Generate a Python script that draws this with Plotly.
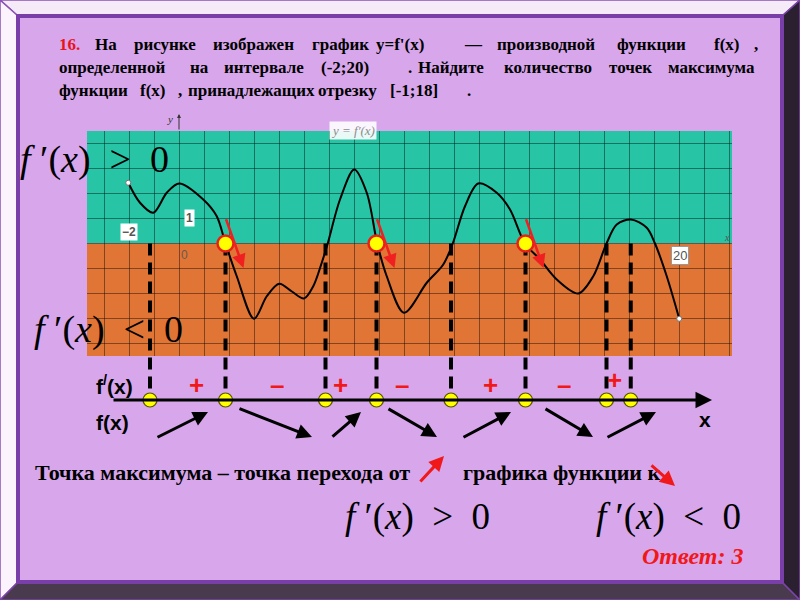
import plotly.graph_objects as go

W, H = 800, 600

# ---------------- data ----------------
curve_x = [-2.03, -1.56, -1.03, -0.49, 0.01, 0.97, 1.51, 1.86, 2.31, 3.0, 3.51, 4.01, 4.5, 5.0,
           5.37, 5.71, 5.95, 6.44, 7.01, 7.51, 7.93, 8.31, 9.0, 9.91, 10.57, 10.95, 11.44, 11.97,
           12.71, 13.24, 13.84, 14.44, 15.11, 15.97, 16.57, 17.1, 17.51, 18.08, 18.71, 19.04,
           19.51, 20.01]
curve_y = [2.43, 1.63, 1.23, 2.03, 2.4, 1.76, 1.09, 0.0, -1.31, -3.01, -2.11, -1.61, -1.91, -2.2,
           -1.71, -0.77, 0.0, 1.76, 2.96, 2.03, 0.0, -1.31, -2.77, -1.57, -0.84, 0.0, 1.49, 2.4,
           2.03, 1.36, 0.0, -0.64, -1.44, -2.0, -1.31, 0.0, 0.76, 0.96, 0.63, 0.0, -1.31, -3.01]
end_x = [-2.03, 20.01]
end_y = [2.43, -3.01]

crit_x = [-1.16, 1.86, 5.86, 7.9, 10.88, 13.86, 17.1, 18.07]   # dashed lines / number-line points
max_x = [1.86, 7.9, 13.86]                                       # maxima of f(x)

sign_text = ["+", "–", "+", "–", "+", "–", "+"]
sign_x = [0.68, 3.92, 6.44, 8.92, 12.44, 15.4, 17.42]
sign_raise = [0, 0, 0, 0, 0, 0, 1]

trend_x0 = [-0.92, 2.36, 6.08, 8.32, 11.32, 14.6, 17.08]
trend_x1 = [1.16, 5.32, 7.28, 10.32, 13.28, 16.56, 19.08]
trend_up = [True, False, True, False, True, False, True]

title_lines = [
    [("16.", 57, "#e8141c"), ("На", 93, None), ("рисунке", 132, None), ("изображен", 211, None),
     ("график", 310, None), ("y=f'(x)", 374, None), ("—", 462, None), ("производной", 495, None),
     ("функции", 615, None), ("f(x)", 712, None), (",", 752, None)],
    [("определенной", 57, None), ("на", 188, None), ("интервале", 222, None), ("(-2;20)", 319, None),
     (".", 406, None), ("Найдите", 416, None), ("количество", 502, None), ("точек", 607, None),
     ("максимума", 666, None)],
    [("функции", 57, None), ("f(x)", 138, None), (",", 176, None), ("принадлежащих", 186, None),
     ("отрезку", 316, None), ("[-1;18]", 388, None), (".", 465, None)],
]
title_y = [45, 67, 90]

# ---------------- layout constants ----------------
X0PX, UNIT = 179.0, 25.0
PLOT_L, PLOT_R, PLOT_T, PLOT_B = 87, 732, 131, 356
Y0PX = 243.5

LAV = "#d7a6eb"
TEAL = "#27c4a6"
ORANGE = "#e07536"
SERIF = "Liberation Serif"
SANS = "Liberation Sans"


def px(x):
    return x / W


def py(y):
    return 1 - y / H


def poly(pts):
    s = "M " + " L ".join(f"{px(a):.5f},{py(b):.5f}" for a, b in pts) + " Z"
    return s


fig = go.Figure()

# ---------------- main chart (x / y) ----------------
fig.add_trace(go.Scatter(x=curve_x, y=curve_y, mode="lines",
                         line=dict(color="black", width=2, shape="spline", smoothing=0.9),
                         hoverinfo="skip", showlegend=False))
fig.add_trace(go.Scatter(x=end_x, y=end_y, mode="markers",
                         marker=dict(size=5, color="white", line=dict(color="#777", width=1)),
                         hoverinfo="skip", showlegend=False))

# dashed lines and number-line dots on a pixel-based overlay subplot (x2 / y2)
for cx in crit_x:
    fig.add_trace(go.Scatter(x=[cx, cx], y=[Y0PX, 398], xaxis="x2", yaxis="y2", mode="lines",
                             line=dict(color="black", width=4, dash="12px,7px"),
                             hoverinfo="skip", showlegend=False))
fig.add_trace(go.Scatter(x=crit_x, y=[400] * len(crit_x), xaxis="x2", yaxis="y2", mode="markers",
                         marker=dict(size=14, color="#ffff00", line=dict(color="#555500", width=1.2)),
                         hoverinfo="skip", showlegend=False))
fig.add_trace(go.Scatter(x=max_x, y=[Y0PX] * len(max_x), xaxis="x2", yaxis="y2", mode="markers",
                         marker=dict(size=16, color="#ffff00", line=dict(color="#e8201a", width=2.5)),
                         hoverinfo="skip", showlegend=False))

shapes = []
# frame
shapes.append(dict(type="path", xref="paper", yref="paper", layer="below",
                   path=poly([(0, 0), (800, 0), (782, 16), (18, 16)]),
                   fillcolor="#f5eaf8", line=dict(color="#8b52b5", width=1.5)))
shapes.append(dict(type="path", xref="paper", yref="paper", layer="below",
                   path=poly([(0, 0), (18, 16), (18, 582), (0, 600)]),
                   fillcolor="#fbf4fc", line=dict(color="#8b52b5", width=1.5)))
shapes.append(dict(type="path", xref="paper", yref="paper", layer="below",
                   path=poly([(0, 600), (18, 582), (782, 582), (800, 600)]),
                   fillcolor="#4a3a4d", line=dict(color="#7b45a8", width=1.5)))
shapes.append(dict(type="path", xref="paper", yref="paper", layer="below",
                   path=poly([(800, 0), (782, 16), (782, 582), (800, 600)]),
                   fillcolor="#2a2030", line=dict(color="#7b45a8", width=1.5)))
shapes.append(dict(type="rect", xref="paper", yref="paper", layer="below",
                   x0=px(18), x1=px(782), y0=py(582), y1=py(16),
                   fillcolor=LAV, line=dict(color="#7a3ea8", width=4)))
# coloured half-planes
shapes.append(dict(type="rect", xref="x", yref="y", layer="below",
                   x0=-10, x1=30, y0=0, y1=10, fillcolor=TEAL, line=dict(width=0)))
shapes.append(dict(type="rect", xref="x", yref="y", layer="below",
                   x0=-10, x1=30, y0=-10, y1=0, fillcolor=ORANGE, line=dict(width=0)))

ann = []


def label(text, xl, yc, size, color="black", family=SERIF, xanchor="left"):
    ann.append(dict(xref="paper", yref="paper", x=px(xl), y=py(yc), xanchor=xanchor,
                    yanchor="middle", showarrow=False, text=text,
                    font=dict(family=family, size=size, color=color)))


# title words
for line, yy in zip(title_lines, title_y):
    for word, xl, col in line:
        label(f"<b>{word}</b>", xl, yy, 17, col or "black")

GT = "<i>f</i>&nbsp;′(<i>x</i>)&nbsp;&nbsp;&gt;&nbsp;&nbsp;0"
LT = "<i>f</i>&nbsp;′(<i>x</i>)&nbsp;&nbsp;&lt;&nbsp;&nbsp;0"
label(GT, 18, 160, 38)
label(LT, 32, 329, 38)
label(GT, 343, 517, 37)
label(LT, 594, 517, 37)

# axis labels inside the chart
ann.append(dict(xref="x", yref="y", x=-2, y=0.45, showarrow=False, text="<b>−2</b>",
                font=dict(family=SANS, size=12, color="#555"), bgcolor="white", borderpad=1))
ann.append(dict(xref="x", yref="y", x=0.42, y=1.0, showarrow=False, text="<b>1</b>",
                font=dict(family=SANS, size=12, color="#555"), bgcolor="white", borderpad=1))
ann.append(dict(xref="x", yref="y", x=0.2, y=-0.45, showarrow=False, text="0",
                font=dict(family=SANS, size=12, color="#6a5a50")))
ann.append(dict(xref="x", yref="y", x=20.05, y=-0.5, showarrow=False, text="20",
                font=dict(family=SANS, size=13, color="#555"), bgcolor="white",
                bordercolor="#999", borderwidth=1, borderpad=1))
ann.append(dict(xref="paper", yref="paper", x=px(353), y=py(131), showarrow=False,
                yanchor="middle", text="<i>y = f′(x)</i>",
                font=dict(family=SERIF, size=13, color="#8c8c8c"),
                bgcolor="rgba(255,255,255,0.9)", borderpad=1))
# y axis arrow and label
ann.append(dict(xref="x2", yref="y2", x=0, y=114, axref="x2", ayref="y2", ax=0, ay=PLOT_T,
                showarrow=True, arrowhead=2, arrowsize=0.8, arrowwidth=1, arrowcolor="#333", text=""))
label("<i>y</i>", 170, 119, 11, "#333", xanchor="center")
label("<i>x</i>", 727, 237, 10, "#555", xanchor="center")

# red arrows at the maxima
for mx in max_x:
    ann.append(dict(xref="x", yref="y", axref="x", ayref="y", x=mx + 0.72, y=-0.98, ax=mx,
                    ay=1.03, showarrow=True, arrowhead=2, arrowsize=1.1, arrowwidth=2.5,
                    arrowcolor="#f02020", text=""))

# number line
ann.append(dict(xref="x2", yref="y2", axref="x2", ayref="y2", x=(712 - X0PX) / UNIT, y=400,
                ax=(112 - X0PX) / UNIT, ay=400, showarrow=True, arrowhead=2, arrowsize=1.1,
                arrowwidth=3, arrowcolor="black", text=""))
for t, sx, r in zip(sign_text, sign_x, sign_raise):
    ann.append(dict(xref="x2", yref="y2", x=sx, y=385 - 5 * r, showarrow=False,
                    yanchor="middle", text=f"<b>{t}</b>",
                    font=dict(family=SANS, size=26, color="#f01818")))
for x0, x1, up in zip(trend_x0, trend_x1, trend_up):
    y0, y1 = (438, 412) if up else (408, 437)
    ann.append(dict(xref="x2", yref="y2", axref="x2", ayref="y2", x=x1, y=y1, ax=x0, ay=y0,
                    showarrow=True, arrowhead=2, arrowsize=1.0, arrowwidth=3,
                    arrowcolor="black", text=""))
label("<b>f<sup>/</sup>(x)</b>", 94, 385, 21, family=SANS)
label("<b>f(x)</b>", 94, 422, 21, family=SANS)
label("<b>x</b>", 705, 419, 21, family=SANS, xanchor="center")

# bottom sentence
label("<b>Точка максимума – точка перехода от</b>", 33, 472, 22)
label("<b>графика функции к</b>", 461, 472, 22)
ann.append(dict(xref="paper", yref="paper", axref="pixel", ayref="pixel", x=px(444), y=py(456),
                ax=-25, ay=27, showarrow=True, arrowhead=2, arrowsize=1, arrowwidth=3,
                arrowcolor="#f01818", text=""))
ann.append(dict(xref="paper", yref="paper", axref="pixel", ayref="pixel", x=px(675), y=py(486),
                ax=-25, ay=-22, showarrow=True, arrowhead=2, arrowsize=1, arrowwidth=3,
                arrowcolor="#f01818", text=""))
label("<b><i>Ответ: 3</i></b>", 745, 556, 24, "#f01818", xanchor="right")

grid = dict(showgrid=True, gridcolor="rgba(0,0,0,0.42)", gridwidth=1, dtick=1, tick0=0,
            showticklabels=False, zeroline=False, showline=False, ticks="", fixedrange=True)

fig.update_layout(
    width=W, height=H, margin=dict(l=0, r=0, t=0, b=0),
    paper_bgcolor=LAV, plot_bgcolor="rgba(0,0,0,0)",
    showlegend=False,
    xaxis=dict(domain=[px(PLOT_L), px(PLOT_R)],
               range=[(PLOT_L - X0PX) / UNIT, (PLOT_R - X0PX) / UNIT], **grid),
    yaxis=dict(domain=[py(PLOT_B), py(PLOT_T)],
               range=[(Y0PX - PLOT_B) / UNIT, (Y0PX - PLOT_T) / UNIT], **grid),
    xaxis2=dict(domain=[px(PLOT_L), px(PLOT_R)],
                range=[(PLOT_L - X0PX) / UNIT, (PLOT_R - X0PX) / UNIT], visible=False,
                anchor="y2", fixedrange=True),
    yaxis2=dict(domain=[0, 1], range=[H, 0], visible=False, anchor="x2", fixedrange=True),
    shapes=shapes, annotations=ann,
)

fig.write_html("out.html", config={"displayModeBar": False, "staticPlot": True},
               post_script="document.body.style.margin='0';")
